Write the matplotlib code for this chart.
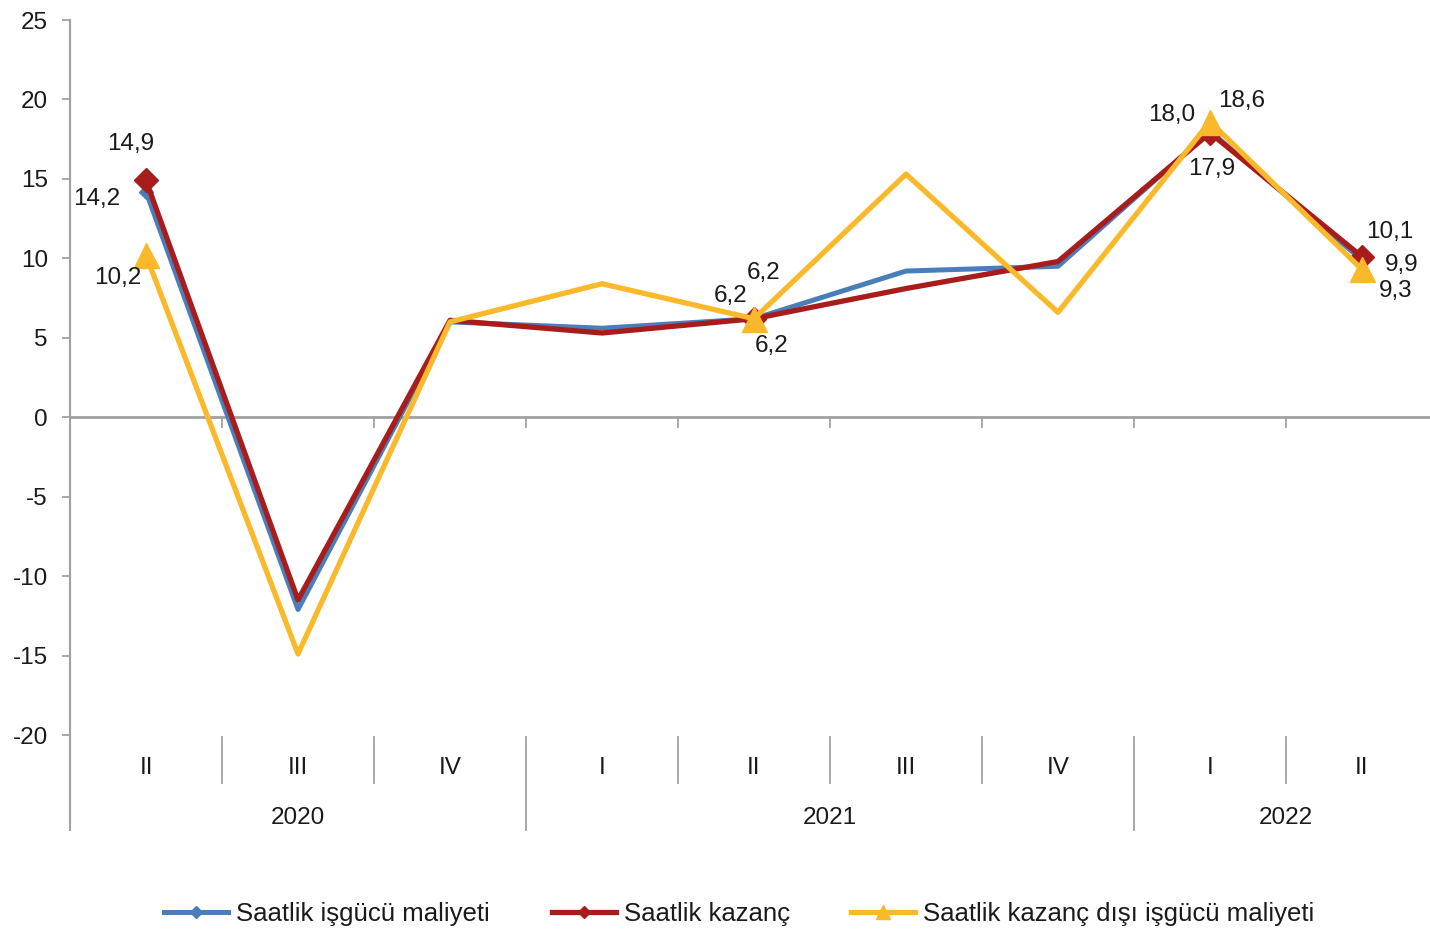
import matplotlib.pyplot as plt
from matplotlib.lines import Line2D

plt.rcParams['font.family'] = ['Liberation Sans', 'DejaVu Sans']
plt.rcParams['axes.unicode_minus'] = False

# Daten
quarters = ["II", "III", "IV", "I", "II", "III", "IV", "I", "II"]
years = ["2020", "2021", "2022"]
year_span = [(0, 2), (3, 6), (7, 8)]
isgucu = [14.2, -12.1, 6.0, 5.6, 6.2, 9.2, 9.5, 18.0, 9.9]
kazanc = [14.9, -11.5, 6.1, 5.3, 6.2, 8.1, 9.8, 17.9, 10.1]
kazanc_disi = [10.2, -14.9, 6.0, 8.4, 6.2, 15.3, 6.6, 18.6, 9.3]
names = ["Saatlik işgücü maliyeti", "Saatlik kazanç",
         "Saatlik kazanç dışı işgücü maliyeti"]
marked = [0, 4, 7, 8]

c_blue = "#4a7ebb"
c_red = "#a81c1c"
c_yel = "#f9b92b"
grey = "#a0a0a0"
txt = "#1a1a1a"
fs = 17.5

fig = plt.figure(figsize=(14.3, 9.38), dpi=100)
ax = fig.add_axes([70 / 1430, 203 / 938, 1368 / 1430, 715 / 938])

ax.plot(range(9), isgucu, color=c_blue, lw=3.6, marker="D", ms=7,
        markevery=marked, zorder=3)
ax.plot(range(9), kazanc, color=c_red, lw=3.8, marker="D", ms=12,
        markevery=marked, zorder=4)
ax.plot(range(9), kazanc_disi, color=c_yel, lw=3.8, marker="^", ms=18,
        markevery=marked, zorder=5)

ax.set_xlim(-0.5, 8.5)
ax.set_ylim(-20, 25)
ax.set_yticks(range(-20, 26, 5))
ax.tick_params(axis="y", direction="out", length=6, color=grey, width=1.3,
               labelsize=fs, labelcolor=txt, pad=10)

# x-Achse bei 0
for s in ["top", "right", "left"]:
    ax.spines[s].set_visible(False)
ax.spines["bottom"].set_position(("data", 0))
ax.spines["bottom"].set_color(grey)
ax.spines["bottom"].set_linewidth(2)
ax.set_xticks([i + 0.5 for i in range(-1, 9)])
ax.tick_params(axis="x", direction="out", length=8, color=grey, width=1.3,
               labelbottom=False)

# linke Achse bis in den Beschriftungsbereich
ax.plot([-0.5, -0.5], [25, -26], color=grey, lw=1.5, clip_on=False)

# Trennstriche und Beschriftungen
for i in range(8):
    b = i + 0.5
    long = b in (2.5, 6.5)
    ax.plot([b, b], [-20.1, -26 if long else -23], color=grey, lw=1.3,
            clip_on=False)
for i, q in enumerate(quarters):
    ax.text(i, -22.1, q, ha="center", va="center", fontsize=fs, color=txt)
for y, (a, b) in zip(years, year_span):
    ax.text((a + b) / 2, -25.2, y, ha="center", va="center", fontsize=fs,
            color=txt)

# Datenbeschriftungen
labels = [
    (isgucu, 0, -49, -7), (kazanc, 0, -15, 36), (kazanc_disi, 0, -28, -23),
    (isgucu, 4, -23, 23), (kazanc_disi, 4, 10, 46), (kazanc, 4, 18, -27),
    (isgucu, 7, -38, 16), (kazanc_disi, 7, 32, 21), (kazanc, 7, 2, -36),
    (kazanc, 8, 28, 25), (isgucu, 8, 40, -5), (kazanc_disi, 8, 34, -22),
]
for ser, i, dx, dy in labels:
    ax.annotate(f"{ser[i]:.1f}".replace(".", ","), (i, ser[i]),
                xytext=(dx, dy), textcoords="offset pixels", ha="center",
                va="center", fontsize=fs, color=txt, zorder=6)

handles = [
    Line2D([], [], color=c_blue, lw=3.6, marker="D", ms=6),
    Line2D([], [], color=c_red, lw=3.8, marker="D", ms=6),
    Line2D([], [], color=c_yel, lw=3.8, marker="^", ms=10),
]
fig.legend(handles, names, loc="center", bbox_to_anchor=(0.517, 0.026),
           ncol=3, frameon=False, fontsize=18.5, handlelength=2.5,
           handletextpad=0.3, columnspacing=2.4, labelcolor=txt)

fig.savefig("out.png", dpi=100)
